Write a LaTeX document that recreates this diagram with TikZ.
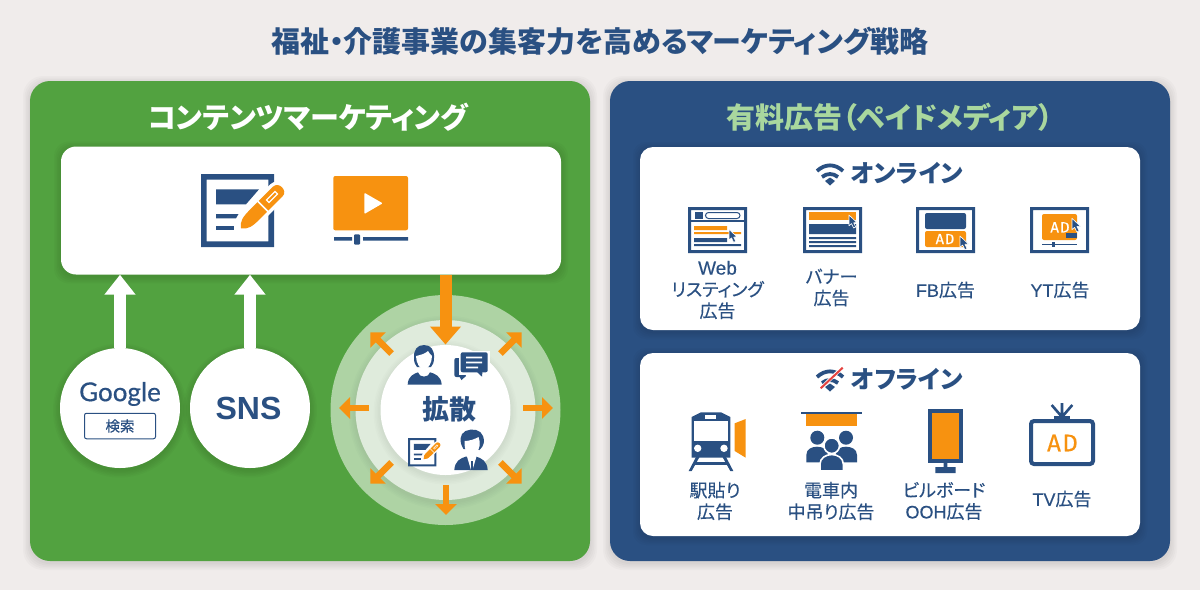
\documentclass[tikz,border=0pt]{standalone}
\usepackage{fontspec}
\usetikzlibrary{arrows.meta,calc}
\newfontfamily\jp{Noto Sans CJK JP}[RawFeature=+palt]
\newfontfamily\jpm{Noto Sans CJK JP}[RawFeature=+palt,FakeBold=0.35]
\newfontfamily\lat{Liberation Sans}[FakeBold=0.25]
\newfontfamily\latb{Liberation Sans}
\newfontfamily\gfont{Lato}[FakeBold=0.5]
\newfontfamily\dinf{Fira Sans}[FakeBold=0.4]
\definecolor{bgc}{HTML}{F0ECEB}
\definecolor{grn}{HTML}{52A240}
\definecolor{navy}{HTML}{2A5082}
\definecolor{org}{HTML}{F79210}
\definecolor{lgrn}{HTML}{A9D79E}
\definecolor{ringa}{HTML}{AED3A4}
\definecolor{ringb}{HTML}{DFEBDC}
\definecolor{redc}{HTML}{E5433F}
\tikzset{
  x=1pt,y=-1pt,
  panel/.style={rectangle,rounded corners=20pt,inner sep=0pt,minimum width=560pt,minimum height=480pt},
  card/.style={rectangle,fill=white,rounded corners=13pt,inner sep=0pt},
  disc/.style={circle,inner sep=0pt,outer sep=0pt},
  title/.style={font=\jp\bfseries\fontsize{#1}{#1}\selectfont,inner sep=0pt},
  lab/.style={font=\jpm\fontsize{18}{21.5}\selectfont,text=navy,align=center,inner sep=0pt},
  whitearrow/.style={white,line width=12pt,-{Triangle[length=20pt,width=30pt]}},
  bigarrow/.style={org,line width=12pt,-{Triangle[length=18pt,width=30pt]}},
  smallarrow/.style={org,line width=6.5pt,-{Triangle[length=11pt,width=21pt]}},
}
% soft shadows
\newcommand{\softrect}[5]{\foreach \d in {7,5.5,4,2.5,1}{\fill[black,opacity=.018,rounded corners=#5pt] (#1-\d,#2-\d+2) rectangle (#3+\d,#4+\d+2);}}
\newcommand{\softcirc}[4]{\foreach \d in {7,5.5,4,2.5,1}{\fill[black,opacity=#4] (#1,#2+2.5) circle[radius=#3+\d];}}
% frame
\newcommand{\adframe}[4]{\fill[navy,even odd rule] (#1,#2) rectangle (#3,#4) (#1+3,#2+3) rectangle (#3-3,#4-3);}
% cursor: tip at #1,#2
\newcommand{\cursor}[3]{\begin{scope}[shift={(#1,#2)},scale=#3]
  \filldraw[navy,draw=white,line width=.6pt,line join=round] (0,0) -- (0,10.8) -- (2.5,8.6) -- (4.6,13) -- (6.7,12) -- (4.7,7.8) -- (8,7.6) -- cycle;
\end{scope}}
% document with pen
\newcommand{\docicon}[3]{\begin{scope}[shift={(#1,#2)},scale=#3]
  \fill[navy,even odd rule] (0,0) rectangle (73,73) (5.7,5.7) rectangle (67.3,67.3);
  \fill[navy] (15,15.3) -- (58,15.3) -- (45,30.3) -- (15,30.3) -- cycle;
  \fill[navy] (15,40) -- (37.5,40) -- (35,44.3) -- (15,44.3) -- cycle;
  \fill[navy] (15,51.7) rectangle (33,56);
  \begin{scope}[shift={(40,54.3)},rotate=45]
    \draw[white,line width={7pt*#3},line join=round] (0,0) .. controls (4,-6) and (10,-6.8) .. (20,-6.8) -- (52,-6.8) .. controls (60,-6.8) and (60,6.8) .. (52,6.8) -- (20,6.8) .. controls (10,6.8) and (4,6) .. cycle;
    \fill[org] (0,0) .. controls (4,-6) and (10,-6.8) .. (20,-6.8) -- (52,-6.8) .. controls (60,-6.8) and (60,6.8) .. (52,6.8) -- (20,6.8) .. controls (10,6.8) and (4,6) .. cycle;
    \draw[white,line width={1.6pt*#3}] (31,-7.5) -- (31,7.5);
    \draw[white,line width={1.2pt*#3}] (38,-2) rectangle (50,1.5);
  \end{scope}
\end{scope}}
\begin{document}
\begin{tikzpicture}
\useasboundingbox (0,0) rectangle (1200,590);
\fill[bgc] (0,0) rectangle (1200,590);
\node[title=29,text=navy] (maintitle) at (600,41) {福祉・介護事業の集客力を高めるマーケティング戦略};

% panels
\softrect{30}{81}{590}{561}{20}
\softrect{610}{81}{1170}{561}{20}
\node[panel,fill=grn] (leftpanel) at (310,321) {};
\node[panel,fill=navy] (rightpanel) at (890,321) {};
\node[title=29,text=white] (lefthead) at (308,117) {コンテンツマーケティング};
\node[title=29,text=lgrn] (righthead) at (890,117) {有料広告（ペイドメディア）};

% left: box
\softrect{61}{146.5}{561}{274.5}{15}
\node[card,minimum width=500pt,minimum height=128pt,rounded corners=15pt] (mainbox) at (311,210.5) {};
\docicon{201}{174}{1}
\fill[org,rounded corners=2pt] (333.3,176) rectangle (408,230.3);
\fill[white,rounded corners=1pt] (364.3,192.7) -- (382.7,203.3) -- (364.3,214) -- cycle;
\fill[navy] (334,237) rectangle (352,240.7) (363,237) rectangle (408,240.7);
\fill[navy,rounded corners=1pt] (354,234.3) rectangle (360,244.7);

% circles
\softcirc{120}{408}{60}{.018}
\softcirc{250}{408}{60}{.018}
\node[disc,fill=white,minimum size=120pt] (google) at (120,408) {};
\node[disc,fill=white,minimum size=120pt] (sns) at (250,408) {};
\node[font=\gfont\fontsize{26}{26}\selectfont,text=navy,inner sep=0pt] (googletxt) at (120,394) {Google};
\node[draw=navy,line width=1pt,rounded corners=2pt,minimum width=71pt,minimum height=25.5pt,inner sep=0pt,font=\jpm\fontsize{14.5}{14.5}\selectfont,text=navy] (kensaku) at (120,426) {検索};
\node[font=\latb\bfseries\fontsize{32}{32}\selectfont,text=navy,inner sep=0pt] (snstxt) at (248.5,408) {SNS};
\draw[whitearrow] (google.north) -- (google |- mainbox.south);
\draw[whitearrow] (sns.north) -- (sns |- mainbox.south);

% rings
\node[disc,fill=ringa,minimum size=230pt] (ringout) at (445.5,410) {};
\softcirc{445.5}{410}{90}{.012}
\node[disc,fill=ringb,minimum size=180pt] (ringmid) at (445.5,410) {};
\softcirc{445.5}{410}{65}{.012}
\node[disc,fill=white,minimum size=130pt] (ringin) at (445.5,410) {};
\coordinate (ringtop) at (445.5,344.5);
\draw[bigarrow] (mainbox.south -| ringtop) -- (ringtop);
\coordinate (rc) at (446,408);
\foreach \a in {0,45,90,135,180,225,315}{\draw[smallarrow] ($(rc)+(\a:77)$) -- ($(rc)+(\a:107)$);}
\node[title=27,text=navy] (kakusan) at (449,409) {拡散};
% person 1
\fill[navy] (407.7,384.5) .. controls (408,376) and (414,373.5) .. (419,372) -- (429,372) .. controls (435,373.5) and (441,376) .. (441.7,384.5) -- cycle;
\fill[white] (418,372) .. controls (419,378) and (429,378) .. (430,372) -- (430,366) -- (418,366) -- cycle;
\fill[navy] (424,345) .. controls (417,345) and (413.5,350) .. (414,358) .. controls (414,362) and (415,365) .. (417,367) -- (431,367) .. controls (433,365) and (434,362) .. (434,358) .. controls (434.5,350) and (431,345) .. (424,345) -- cycle;
\fill[white] (416,356) .. controls (420,355) and (425,354) .. (428,351) .. controls (429,353) and (431,355) .. (432,356) .. controls (432,363) and (428,369.5) .. (424,369.5) .. controls (420,369.5) and (416,363) .. (416,356) -- cycle;
% chat
\fill[navy,rounded corners=2pt] (454.3,358) rectangle (466,377);
\fill[navy] (459,376) -- (461.5,380) -- (466,376) -- cycle;
\fill[white] (459.3,350.5) rectangle (489.5,374.5);
\fill[navy,rounded corners=2pt] (460.7,352.3) rectangle (487.7,372.3);
\fill[navy] (476,371) -- (482,376.7) -- (482.5,371) -- cycle;
\fill[white] (466,356.5) rectangle (482,358.3) (466,361.5) rectangle (482,363.3) (466,366.5) rectangle (478,368.3);
% doc small
\docicon{408}{438}{0.39}
% person 2
\fill[navy] (454.3,470) .. controls (455,461) and (460,458.5) .. (466,456.5) -- (476,456.5) .. controls (482,458.5) and (487,461) .. (487.7,470) -- cycle;
\fill[navy] (463.5,449) .. controls (459,442) and (459.5,434) .. (465.5,431) .. controls (472,428) and (481,429.5) .. (483,436) .. controls (485,441) and (484,446) .. (479.5,450) -- cycle;
\fill[white] (464.5,441) .. controls (470,441) and (475,439) .. (478.5,437) .. controls (479.5,440) and (480,442) .. (479.5,446) .. controls (478.5,452) and (474.5,456.5) .. (471.5,456.5) .. controls (468.5,456.5) and (464,451) .. (464.5,441) -- cycle;
\fill[white] (467,456.5) -- (471,470) -- (472.5,470) -- (476.5,456.5) -- (474,453) -- (469,453) -- cycle;
\fill[navy] (470.5,461) rectangle (472.7,470);

% right cards
\softrect{640}{147}{1140}{330}{13}
\softrect{640}{353}{1140}{536}{13}
\node[card,minimum width=500pt,minimum height=183pt] (online) at (890,238.5) {};
\node[card,minimum width=500pt,minimum height=183pt] (offline) at (890,444.5) {};
\node[title=24.5,text=navy] (ontxt) at (907,173) {オンライン};
\node[title=24.5,text=navy] (offtxt) at (907,379) {オフライン};
% wifi
\foreach \yy in {0,206}{\begin{scope}[yshift=-\yy pt]
  \draw[navy,line width=3.8pt] (817,171) .. controls (825,163.5) and (835,163.5) .. (843,171);
  \draw[navy,line width=3.8pt] (822,177) .. controls (827,173) and (833,173) .. (838,177);
  \fill[navy] (825,181) -- (830,177.5) -- (835,181) -- (830,185.5) -- cycle;
\end{scope}}
\draw[white,line width=3.5pt] (819,390) -- (844,366);
\draw[redc,line width=2pt] (820.7,388.3) -- (842.7,367.7);

% Web
\adframe{688}{207}{747}{253}
\fill[navy] (691,220.2) rectangle (744,221.8);
\fill[navy] (695,212) rectangle (703,219);
\draw[navy,line width=1pt,rounded corners=3pt] (705.5,212.5) rectangle (740,218.5);
\fill[org] (694,226) rectangle (727,230) (694,232) rectangle (741,234);
\fill[navy] (694,238) rectangle (727,242) (694,244) rectangle (741,246);
\cursor{729}{229.3}{1}
\node[lab] (weblab) at (717.5,290) {{\lat\fontsize{19}{19}\selectfont Web}\\リスティング\\広告};
% Banner
\adframe{803}{207}{862}{253}
\fill[org] (809,212) rectangle (856,220);
\fill[navy] (809,224) rectangle (856,234) (809,237) rectangle (856,239) (809,241) rectangle (856,243) (809,245) rectangle (856,247);
\cursor{849}{215}{1}
\node[lab] (banlab) at (831.5,287.5) {バナー\\広告};
% FB
\adframe{916}{207}{975}{253}
\fill[navy,rounded corners=2pt] (925,213) rectangle (966,229);
\fill[org,rounded corners=2pt] (925,231) rectangle (966,247);
\node[font=\dinf\fontsize{14.5}{14.5}\selectfont,text=white,inner sep=0pt] (fbad) at (945,239) {A\kern1pt D};
\cursor{960}{236}{1.05}
\node[lab] (fblab) at (945.5,290) {{\lat FB}広告};
% YT
\adframe{1030}{207}{1089}{253}
\fill[org,rounded corners=2pt] (1042,214) rectangle (1077,240);
\fill[navy] (1066,233) rectangle (1077,238);
\node[font=\dinf\fontsize{15}{15}\selectfont,text=white,inner sep=0pt] (ytad) at (1060,227.3) {A\kern1pt D};
\cursor{1072}{218.3}{1.05}
\draw[navy,line width=1pt] (1042,244) -- (1077,244);
\fill[navy] (1051.5,241.7) rectangle (1055,246.5);
\node[lab] (ytlab) at (1060,290) {{\lat YT}広告};

% Train
\fill[navy] (691.7,417) -- (701,412.3) -- (721,412.3) -- (730.3,417) -- (730.3,457.7) -- (691.7,457.7) -- cycle;
\fill[white] (694.3,421.3) rectangle (727.7,441);
\fill[white] (705,414.7) rectangle (716.3,419);
\fill[white] (697.7,448.3) circle[radius=3.7] (724,448.3) circle[radius=3.7];
\fill[navy] (696,457) -- (699.5,457) -- (691.7,471) -- (688.7,471) -- cycle;
\fill[navy] (726,457) -- (722.5,457) -- (730.3,471) -- (733.3,471) -- cycle;
\fill[navy] (695,461.5) rectangle (727,464.5);
\fill[org] (734.7,423.3) -- (745.7,419) -- (745.7,457.7) -- (734.7,451) -- cycle;
\node[lab] (ekilab) at (715,501) {駅貼り\\広告};
% Hanging
\fill[navy] (801,412) rectangle (862.3,414);
\fill[org] (806.3,414.3) rectangle (857,426.3);
\fill[navy] (817.3,437.7) circle[radius=7] (846,437.7) circle[radius=7];
\fill[navy] (806.3,462.3) -- (806.3,455) .. controls (806.3,449) and (812,446.7) .. (817,446.7) .. controls (822,446.7) and (828,449) .. (828,455) -- (828,462.3) -- cycle;
\fill[navy] (835.5,462.3) -- (835.5,455) .. controls (835.5,449) and (841,446.7) .. (846,446.7) .. controls (851,446.7) and (857,449) .. (857,455) -- (857,462.3) -- cycle;
\filldraw[navy,draw=white,line width=1.6pt] (831.7,445.7) circle[radius=7.8];
\filldraw[navy,draw=white,line width=1.6pt] (820,471) -- (820,464) .. controls (820,458) and (826,454.5) .. (831.7,454.5) .. controls (837.5,454.5) and (843.3,458) .. (843.3,464) -- (843.3,471) -- cycle;
\fill[white] (818,470) rectangle (845,473);
\node[lab] (nakalab) at (831,501) {電車内\\中吊り広告};
% Billboard
\fill[navy] (928,409) rectangle (963,463);
\fill[org] (932,413) rectangle (959,459);
\fill[navy] (943.7,463) rectangle (947.3,468) (935.3,467) rectangle (955.7,473);
\node[lab] (ooh) at (944,501) {ビルボード\\{\lat OOH}広告};
% TV
\draw[navy,line width=4pt,rounded corners=3pt] (1031,421) rectangle (1093,464);
\fill[navy] (1054,416) rectangle (1070,419.5);
\draw[navy,line width=2.6pt] (1062,417) -- (1051.7,405) (1062,417) -- (1062,403) (1062,417) -- (1072.3,405);
\node[font=\dinf\fontsize{24}{24}\selectfont,text=org,inner sep=0pt] (tvad) at (1062.5,443) {A\kern1.5pt D};
\node[lab] (tvlab) at (1062,499) {{\lat TV}広告};
\end{tikzpicture}
\end{document}
